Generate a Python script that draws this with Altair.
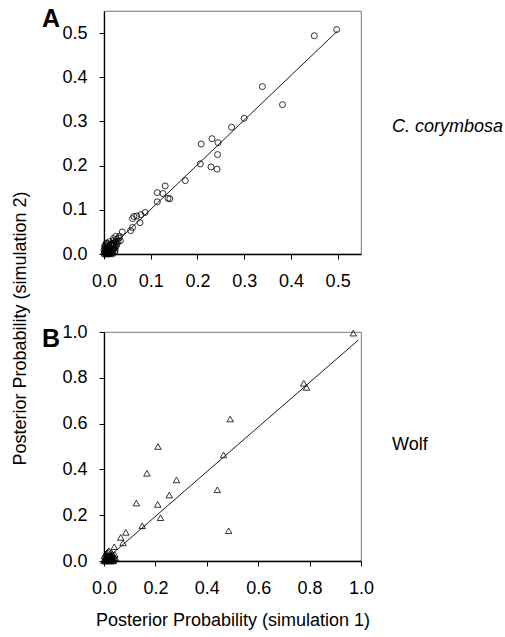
import altair as alt
import pandas as pd

# ---- C. corymbosa: posterior probabilities from two independent runs ----
cor_sim1 = [0.498, 0.450, 0.339, 0.382, 0.300, 0.273, 0.208, 0.231, 0.244, 0.243,
            0.206, 0.229, 0.242, 0.174, 0.131, 0.114, 0.126, 0.137, 0.141, 0.114,
            0.088, 0.079, 0.070, 0.064, 0.061, 0.077, 0.061, 0.057, 0.039, 0.033,
            0.035, 0.025, 0.020,
            0.001, 0.002, 0.003, 0.004, 0.005, 0.006, 0.007, 0.008, 0.009, 0.010,
            0.011, 0.012, 0.013, 0.014, 0.015, 0.016, 0.017, 0.018, 0.019, 0.020,
            0.021, 0.022, 0.023, 0.024, 0.025, 0.026, 0.027, 0.028, 0.030, 0.032,
            0.000, 0.000, 0.005, 0.012, 0.018, 0.024,
            0.002, 0.004, 0.006, 0.008, 0.010, 0.013, 0.015, 0.017, 0.019, 0.022,
            0.003, 0.007, 0.011, 0.014, 0.016, 0.021, 0.009, 0.001]
cor_sim2 = [0.508, 0.494, 0.379, 0.338, 0.307, 0.287, 0.249, 0.261, 0.252, 0.225,
            0.204, 0.197, 0.192, 0.166, 0.154, 0.139, 0.137, 0.126, 0.125, 0.118,
            0.094, 0.089, 0.086, 0.085, 0.080, 0.071, 0.060, 0.053, 0.050, 0.040,
            0.030, 0.040, 0.035,
            0.003, 0.012, 0.020, 0.006, 0.025, 0.015, 0.002, 0.010, 0.021, 0.005,
            0.016, 0.028, 0.009, 0.019, 0.001, 0.012, 0.024, 0.006, 0.017, 0.030,
            0.011, 0.021, 0.004, 0.015, 0.027, 0.018, 0.033, 0.023, 0.028, 0.036,
            0.008, 0.000, 0.000, 0.002, 0.000, 0.008,
            0.006, 0.016, 0.010, 0.004, 0.013, 0.007, 0.022, 0.003, 0.011, 0.014,
            0.000, 0.024, 0.000, 0.004, 0.020, 0.025, 0.000, 0.017]
cor_fit_x = [0.0, 0.5]
cor_fit_y = [0.0, 0.505]

# ---- Wolf ----
wolf_sim1 = [0.970, 0.777, 0.788, 0.491, 0.210, 0.465, 0.167, 0.282, 0.441, 0.254,
             0.126, 0.209, 0.220, 0.485, 0.149, 0.085, 0.065, 0.074, 0.040,
             0.000, 0.003, 0.005, 0.007, 0.009, 0.011, 0.012, 0.014, 0.016, 0.018,
             0.020, 0.021, 0.023, 0.025, 0.027, 0.029, 0.030, 0.032, 0.034, 0.036,
             0.038, 0.040, 0.001, 0.006, 0.010, 0.015, 0.045, 0.042, 0.019, 0.028,
             0.004, 0.008, 0.013, 0.017, 0.022, 0.026, 0.031, 0.002, 0.024, 0.035]
wolf_sim2 = [0.995, 0.776, 0.758, 0.620, 0.500, 0.463, 0.383, 0.354, 0.311, 0.288,
             0.253, 0.247, 0.189, 0.132, 0.154, 0.125, 0.103, 0.079, 0.062,
             0.000, 0.010, 0.003, 0.018, 0.008, 0.001, 0.014, 0.024, 0.006, 0.017,
             0.002, 0.011, 0.027, 0.007, 0.019, 0.003, 0.012, 0.030, 0.009, 0.020,
             0.004, 0.015, 0.022, 0.030, 0.035, 0.040, 0.012, 0.028, 0.045, 0.038,
             0.005, 0.000, 0.009, 0.001, 0.016, 0.000, 0.022, 0.006, 0.013, 0.000]
wolf_fit_x = [0.0, 0.99]
wolf_fit_y = [0.0, 0.965]

FONT = "Liberation Sans"
TICK_FONT = 18


def panel(sim1, sim2, fit_x, fit_y, domain_max, tick_vals, shape, size,
          height, letter, letter_y, species, species_italic, species_y,
          x_title, y_title):
    pts = pd.DataFrame({"sim1": sim1, "sim2": sim2})
    fit = pd.DataFrame({"sim1": fit_x, "sim2": fit_y})

    x_axis = alt.Axis(values=tick_vals, format=".1f", title=x_title,
                      titleFontWeight="normal", titleFontSize=18,
                      titlePadding=14, labelPadding=13)
    y_kwargs = dict(values=tick_vals, format=".1f", titleFontWeight="normal",
                    titleFontSize=18, labelPadding=12)
    if y_title:
        y_kwargs.update(title=y_title, titleX=-84, titleY=317, titleAngle=-90,
                        titleAlign="center", titleBaseline="middle")
    else:
        y_kwargs.update(title=None)
    y_axis = alt.Axis(**y_kwargs)

    xs = alt.Scale(domain=[0, domain_max], nice=False, zero=True)
    ys = alt.Scale(domain=[0, domain_max], nice=False, zero=True)

    points = alt.Chart(pts).mark_point(
        shape=shape, filled=False, color="black", size=size,
        strokeWidth=0.8, opacity=1
    ).encode(
        x=alt.X("sim1:Q", scale=xs, axis=x_axis),
        y=alt.Y("sim2:Q", scale=ys, axis=y_axis),
    )
    line = alt.Chart(fit).mark_line(color="black", strokeWidth=0.9).encode(
        x="sim1:Q", y="sim2:Q"
    )
    tag = alt.Chart(pd.DataFrame({"t": [letter]})).mark_text(
        font=FONT, fontSize=25, fontWeight="bold", align="left",
        baseline="middle", color="black"
    ).encode(text="t:N", x=alt.value(-62), y=alt.value(letter_y))
    name = alt.Chart(pd.DataFrame({"t": [species]})).mark_text(
        font=FONT, fontSize=18, align="left", baseline="middle", color="black",
        fontStyle="italic" if species_italic else "normal"
    ).encode(text="t:N", x=alt.value(288), y=alt.value(species_y))

    return alt.layer(points, line, tag, name).properties(width=257, height=height)


top = panel(cor_sim1, cor_sim2, cor_fit_x, cor_fit_y, 0.55,
            [0, 0.1, 0.2, 0.3, 0.4, 0.5], "circle", 36, 243, "A", 8,
            "C. corymbosa", True, 116, None,
            "Posterior Probability (simulation 2)")
bottom = panel(wolf_sim1, wolf_sim2, wolf_fit_x, wolf_fit_y, 1.0,
               [0, 0.2, 0.4, 0.6, 0.8, 1.0], "triangle-up", 42, 229, "B", 7,
               "Wolf", False, 113, "Posterior Probability (simulation 1)", None)

chart = alt.vconcat(top, bottom, spacing=78, bounds="flush").properties(
    padding={"left": 10, "top": 6, "right": 0, "bottom": 0}
).configure(
    font=FONT
).configure_view(
    stroke="#555", strokeWidth=0.8
).configure_axis(
    grid=False, domainColor="black", domainWidth=1.3, tickColor="black",
    tickSize=5, tickWidth=1, labelFontSize=TICK_FONT, labelColor="black",
    labelFont=FONT, titleFont=FONT, titleColor="black", labelFlush=False,
    labelOverlap=False
)

chart.save("out.html", embed_options={"renderer": "svg", "actions": False})
